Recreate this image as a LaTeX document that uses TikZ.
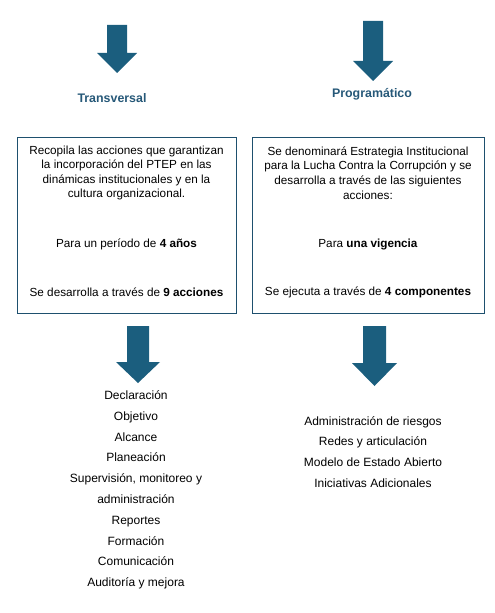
\documentclass[tikz,border=0pt]{standalone}
\usepackage{fontspec}
\setmainfont{Liberation Sans}
\usetikzlibrary{positioning}

\definecolor{arrowblue}{RGB}{27,94,126}
\definecolor{labelblue}{RGB}{38,88,120}
\definecolor{boxline}{RGB}{30,80,110}

\tikzset{
	boxtxt/.style={align=center, inner sep=0pt, font=\fontsize{8.8pt}{10.9pt}\selectfont},
	listtxt/.style={align=center, inner sep=0pt, font=\fontsize{9pt}{15.6pt}\selectfont},
	headtxt/.style={inner sep=0pt, text=labelblue, font=\fontsize{9.3pt}{10pt}\selectfont\bfseries},
	frame/.style={draw=boxline, line width=0.75pt}
}

\begin{document}
\begin{tikzpicture}[x=0.75pt, y=-0.75pt]
	
	\useasboundingbox (0,0) rectangle (495,613);
	
	% block arrows: centre x / top / head start / tip / half shaft / half head
	\foreach \cx/\ya/\yb/\yc/\s/\h in {117/25/53/73/10/20, 373/21/61/81/10/20, 138/326/362/383/11/22, 374.5/326/363/386/11.5/22.5}
		\fill[arrowblue] (\cx-\s,\ya) -- (\cx+\s,\ya) -- (\cx+\s,\yb) -- (\cx+\h,\yb) -- (\cx,\yc) -- (\cx-\h,\yb) -- (\cx-\s,\yb) -- cycle;
	
	\node[headtxt] (transversal) at (112,98) {Transversal};
	\node[headtxt] (programatico) at (372,94) {Programático};
	
	\draw[frame] (17,138) rectangle (236,313);
	\draw[frame] (252,138) rectangle (484,313);
	
	\node[boxtxt] (tdesc) at (126.5,173) {Recopila las acciones que garantizan\\la incorporación del PTEP en las\\dinámicas institucionales y en la\\cultura organizacional.};
	\node[boxtxt] (tperiod) at (126.5,244) {Para un período de \textbf{4 años}};
	\node[boxtxt] (tacc) at (126.5,292) {Se desarrolla a través de \textbf{9 acciones}};
	
	\node[boxtxt] (pdesc) at (368,173) {Se denominará Estrategia Institucional\\para la Lucha Contra la Corrupción y se\\desarrolla a través de las siguientes\\acciones:};
	\node[boxtxt] (pvig) at (368,244) {Para \textbf{una vigencia}};
	\node[boxtxt] (pcomp) at (368,292) {Se ejecuta a través de \textbf{4 componentes}};
	
	\node[listtxt] (tlist) at (136,490) {Declaración\\Objetivo\\Alcance\\Planeación\\Supervisión, monitoreo y\\administración\\Reportes\\Formación\\Comunicación\\Auditoría y mejora};
	\node[listtxt] (plist) at (373,452) {Administración de riesgos\\Redes y articulación\\Modelo de Estado Abierto\\Iniciativas Adicionales};
	
\end{tikzpicture}
\end{document}
